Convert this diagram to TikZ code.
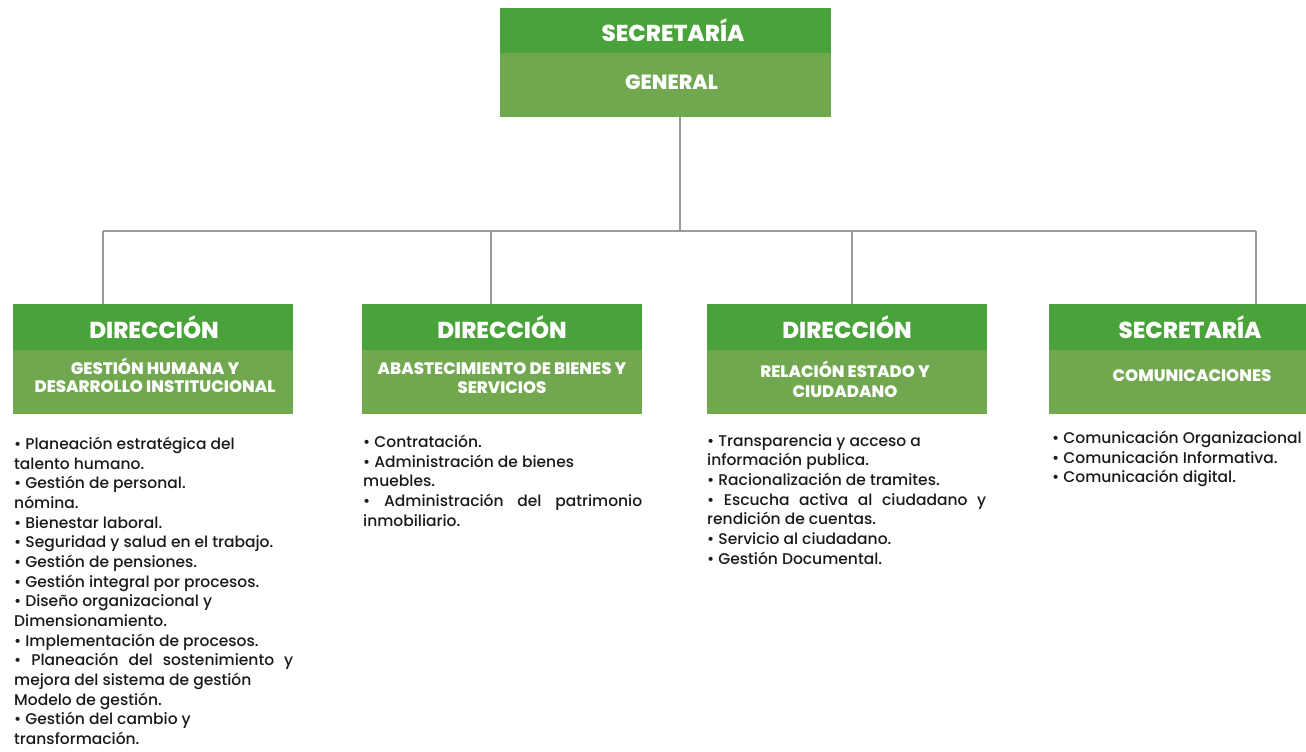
\documentclass[tikz,border=0pt]{standalone}
\usepackage{fontspec}
\setmainfont{Poppins}[UprightFont=* Medium, BoldFont=* ExtraBold]
\definecolor{dk}{HTML}{4AA23A}
\definecolor{lt}{HTML}{71A84F}
\definecolor{ln}{HTML}{9A9A9A}
\definecolor{tx}{HTML}{1A1A1A}
\newcommand{\jl}[1]{\makebox[279pt][s]{#1}}
\begin{document}
\begin{tikzpicture}[x=1pt,y=-1pt,
  bandbox/.style={fill=dk, draw=none, inner sep=0, minimum height=46, minimum width=280},
  lightbox/.style={fill=lt, draw=none, inner sep=0, minimum height=64, minimum width=280},
  head/.style={anchor=base, inner sep=0, text=white, font=\bfseries\fontsize{23}{26}\selectfont},
  sub/.style={anchor=base, inner sep=0, text=white, align=center, font=\bfseries\fontsize{16.6}{17.5}\selectfont},
  conn/.style={draw=ln, line width=1.6},
  list/.style={anchor=north west, inner sep=0, align=left, text=tx, font=\fontsize{15.5}{19.65}\selectfont}]
\useasboundingbox (0,0) rectangle (1306,752);
\fill[white] (0,0) rectangle (1306,752);

% top box
\node[bandbox, minimum width=331, minimum height=45] (sgT) at (665.5,30.5) {};
\node[lightbox, minimum width=331] (sgB) at (665.5,85) {};
\node[head] (sgH) at (673,41.5) {SECRETARÍA};
\node[sub, font=\bfseries\fontsize{20.5}{22}\selectfont] (sgS) at (671.5,89) {GENERAL};

% coordinates
\coordinate (j0) at (680,231);
\coordinate (j1) at (103,231);
\coordinate (j2) at (491,231);
\coordinate (j3) at (852,231);
\coordinate (j4) at (1256,231);

% boxes
\node[bandbox] (b1T) at (153,327) {};
\node[lightbox] (b1B) at (153,382) {};
\node[bandbox] (b2T) at (501.5,327) {};
\node[lightbox] (b2B) at (501.5,382) {};
\node[bandbox] (b3T) at (846.5,327) {};
\node[lightbox] (b3B) at (846.5,382) {};
\node[bandbox] (b4T) at (1189,327) {};
\node[lightbox] (b4B) at (1189,382) {};

\node[head] (h1) at (154,338) {DIRECCIÓN};
\node[head] (h2) at (502,338) {DIRECCIÓN};
\node[head] (h3) at (847,338) {DIRECCIÓN};
\node[head] (h4) at (1190,338) {SECRETARÍA};

\node[sub, font=\bfseries\fontsize{16.6}{18}\selectfont] (s1) at (155,392.5) {GESTIÓN HUMANA Y\\DESARROLLO INSTITUCIONAL};
\node[sub, font=\bfseries\fontsize{16.6}{19}\selectfont] (s2) at (502,393) {ABASTECIMIENTO DE BIENES Y\\SERVICIOS};
\node[sub, font=\bfseries\fontsize{16.6}{19.5}\selectfont] (s3) at (845,397) {RELACIÓN ESTADO Y\\CIUDADANO};
\node[sub] (s4) at (1192,381) {COMUNICACIONES};

% connectors
\draw[conn] (sgB.south -| j0) -- (j0);
\draw[conn] (j1) -- (j4);
\draw[conn] (j1) -- (b1T.north -| j1);
\draw[conn] (j2) -- (b2T.north -| j2);
\draw[conn] (j3) -- (b3T.north -| j3);
\draw[conn] (j4) -- (b4T.north -| j4);

% lists
\node[list] (l1) at (14,437) {• Planeación estratégica del\\
talento humano.\\
• Gestión de personal.\\
nómina.\\
• Bienestar laboral.\\
• Seguridad y salud en el trabajo.\\
• Gestión de pensiones.\\
• Gestión integral por procesos.\\
• Diseño organizacional y\\
Dimensionamiento.\\
• Implementación de procesos.\\
\jl{• Planeación del sostenimiento y}\\
mejora del sistema de gestión\\
Modelo de gestión.\\
• Gestión del cambio y\\
transformación.};

\node[list] (l2) at (363,435) {• Contratación.\\
• Administración de bienes\\
muebles.\\
\jl{• Administración del patrimonio}\\
inmobiliario.};

\node[list] (l3) at (707,434) {• Transparencia y acceso a\\
información publica.\\
• Racionalización de tramites.\\
\jl{• Escucha activa al ciudadano y}\\
rendición de cuentas.\\
• Servicio al ciudadano.\\
• Gestión Documental.};

\node[list] (l4) at (1052,431) {• Comunicación Organizacional\\
• Comunicación Informativa.\\
• Comunicación digital.};
\end{tikzpicture}
\end{document}
